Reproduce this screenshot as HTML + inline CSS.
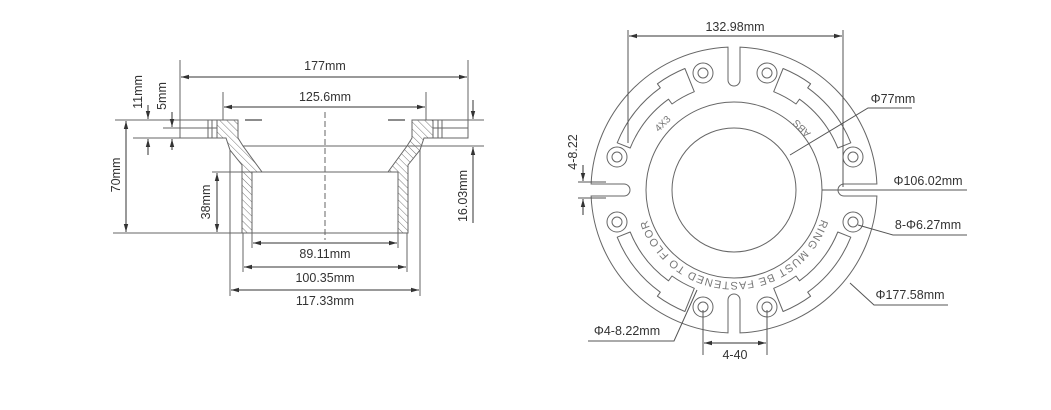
<!DOCTYPE html>
<html><head><meta charset="utf-8"><style>
html,body{margin:0;padding:0;background:#fff;}
svg{display:block;}
text{font-family:"Liberation Sans",sans-serif;font-size:12.5px;fill:#333;}
</style></head><body>
<svg id="s" width="1051" height="410" viewBox="0 0 1051 410" xmlns="http://www.w3.org/2000/svg">
<defs>
<pattern id="h" width="5" height="5" patternUnits="userSpaceOnUse" patternTransform="rotate(-45)">
<line x1="0" y1="0" x2="0" y2="5" stroke="#777" stroke-width="1"/></pattern>
<marker id="a" markerWidth="8" markerHeight="6" refX="8" refY="3" orient="auto-start-reverse" markerUnits="userSpaceOnUse">
<path d="M0,0.8 L8,3 L0,5.2 Z" fill="#333"/></marker>
</defs>
<g stroke="#666" stroke-width="1" fill="none">
<polygon points="217,120 238,120 238,138 243,146 262,172 252,172 252,233 242,233 242,165 230,150 226,138 217,138" fill="url(#h)"/>
<polygon points="433,120 412,120 412,138 407,146 388,172 398,172 398,233 408,233 408,165 420,150 424,138 433,138" fill="url(#h)"/>
<rect x="180" y="120" width="37" height="18"/>
<rect x="433" y="120" width="35" height="18"/>
<line x1="180" y1="128" x2="217" y2="128"/><line x1="433" y1="128" x2="468" y2="128"/>
<line x1="208" y1="120" x2="208" y2="138"/><line x1="212" y1="120" x2="212" y2="138"/>
<line x1="438" y1="120" x2="438" y2="138"/><line x1="442" y1="120" x2="442" y2="138"/>
<line x1="243" y1="146" x2="407" y2="146"/>
<line x1="252" y1="172" x2="398" y2="172"/>
<line x1="252" y1="233" x2="398" y2="233"/>
<line x1="245" y1="120" x2="262" y2="120" stroke-width="1.5"/><line x1="388" y1="120" x2="405" y2="120" stroke-width="1.5"/>
<line x1="325" y1="112" x2="325" y2="240" stroke-dasharray="6,3"/>
<line x1="180" y1="60" x2="180" y2="120"/><line x1="468" y1="60" x2="468" y2="120"/>
<line x1="223" y1="92" x2="223" y2="120"/><line x1="426" y1="92" x2="426" y2="120"/>
<line x1="115" y1="120" x2="180" y2="120"/><line x1="133" y1="138" x2="180" y2="138"/>
<line x1="163" y1="128" x2="180" y2="128"/>
<line x1="113" y1="233" x2="252" y2="233"/>
<line x1="212" y1="172" x2="252" y2="172"/>
<line x1="468" y1="120" x2="484" y2="120"/><line x1="407" y1="146" x2="484" y2="146"/>
<line x1="243" y1="233" x2="243" y2="272"/><line x1="407" y1="233" x2="407" y2="272"/>
<line x1="252" y1="233" x2="252" y2="248"/><line x1="398" y1="233" x2="398" y2="248"/>
<line x1="230" y1="150" x2="230" y2="296"/><line x1="420" y1="150" x2="420" y2="296"/>
</g>
<g stroke="#333" stroke-width="1" fill="none">
<line x1="181" y1="77" x2="467" y2="77" marker-start="url(#a)" marker-end="url(#a)"/>
<line x1="224" y1="107" x2="425" y2="107" marker-start="url(#a)" marker-end="url(#a)"/>
<line x1="148" y1="105" x2="148" y2="119" marker-end="url(#a)"/><line x1="148" y1="155" x2="148" y2="139" marker-end="url(#a)"/>
<line x1="172" y1="112" x2="172" y2="127" marker-end="url(#a)"/><line x1="172" y1="150" x2="172" y2="139" marker-end="url(#a)"/>
<line x1="126" y1="121" x2="126" y2="232" marker-start="url(#a)" marker-end="url(#a)"/>
<line x1="217" y1="173" x2="217" y2="232" marker-start="url(#a)" marker-end="url(#a)"/>
<line x1="473" y1="100" x2="473" y2="119" marker-end="url(#a)"/><line x1="473" y1="223" x2="473" y2="147" marker-end="url(#a)"/>
<line x1="253" y1="243" x2="397" y2="243" marker-start="url(#a)" marker-end="url(#a)"/>
<line x1="244" y1="267" x2="406" y2="267" marker-start="url(#a)" marker-end="url(#a)"/>
<line x1="231" y1="290" x2="419" y2="290" marker-start="url(#a)" marker-end="url(#a)"/>
</g>
<text x="325" y="70" text-anchor="middle">177mm</text>
<text x="325" y="101" text-anchor="middle">125.6mm</text>
<text x="325" y="258" text-anchor="middle">89.11mm</text>
<text x="325" y="282" text-anchor="middle">100.35mm</text>
<text x="325" y="305" text-anchor="middle">117.33mm</text>
<text transform="translate(142,92) rotate(-90)" text-anchor="middle">11mm</text>
<text transform="translate(166,96) rotate(-90)" text-anchor="middle">5mm</text>
<text transform="translate(120,175) rotate(-90)" text-anchor="middle">70mm</text>
<text transform="translate(210,202) rotate(-90)" text-anchor="middle">38mm</text>
<text transform="translate(467,196) rotate(-90)" text-anchor="middle">16.03mm</text>

<g id="r" stroke="#666" stroke-width="1" fill="none">
<circle cx="734" cy="190" r="88"/>
<circle cx="734" cy="190" r="62"/>
</g>
<g stroke="#555" stroke-width="1" fill="none">
<line x1="628" y1="30" x2="628" y2="143"/><line x1="843" y1="30" x2="843" y2="187"/>
<line x1="578" y1="182" x2="606" y2="182"/><line x1="578" y1="198" x2="606" y2="198"/>
<line x1="703" y1="310" x2="703" y2="355"/><line x1="767" y1="310" x2="767" y2="355"/>
<polyline points="790,155 868,108 912,108"/>
<polyline points="822,190 967,190"/>
<polyline points="858,225 893,235 967,235"/>
<polyline points="850,283 874,305 948,305"/>
<polyline points="697,290 674,341 588,341"/>
</g>
<g stroke="#333" stroke-width="1" fill="none">
<line x1="629" y1="36" x2="842" y2="36" marker-start="url(#a)" marker-end="url(#a)"/>
<line x1="583" y1="165" x2="583" y2="181" marker-end="url(#a)"/><line x1="583" y1="215" x2="583" y2="199" marker-end="url(#a)"/>
<line x1="704" y1="343" x2="766" y2="343" marker-start="url(#a)" marker-end="url(#a)"/>
</g>
<text x="735" y="31" text-anchor="middle">132.98mm</text>
<text x="893" y="103" text-anchor="middle">Φ77mm</text>
<text x="928" y="185" text-anchor="middle">Φ106.02mm</text>
<text x="928" y="229" text-anchor="middle">8-Φ6.27mm</text>
<text x="910" y="299" text-anchor="middle">Φ177.58mm</text>
<text x="627" y="335" text-anchor="middle">Φ4-8.22mm</text>
<text x="735" y="359" text-anchor="middle">4-40</text>
<text transform="translate(577,152) rotate(-90)" text-anchor="middle">4-8.22</text>
<text transform="translate(665,126) rotate(-45)" text-anchor="middle" style="font-size:10px;fill:#777">4X3</text>
<text transform="translate(804,126) rotate(-135)" text-anchor="middle" style="font-size:10px;fill:#777">ABS</text>
<path id="arc" d="M 824.6,206 A 92 92 0 0 1 643.4,206" fill="none"/>
<text style="font-size:11px;fill:#777;letter-spacing:1px"><textPath href="#arc" startOffset="50%" text-anchor="middle">RING MUST BE FASTENED TO FLOOR</textPath></text>
</svg>
<script>
(function(){
var s=document.getElementById('r'),cx=734,cy=190,ns="http://www.w3.org/2000/svg";
function p(r,a){a=a*Math.PI/180;return (cx+r*Math.cos(a)).toFixed(1)+","+(cy+r*Math.sin(a)).toFixed(1);}
function el(t,at){var e=document.createElementNS(ns,t);for(var k in at)e.setAttribute(k,at[k]);s.appendChild(e);}
var R=143,w=6,d='';
var slots=[270,0,90,180];
function ang(off,r){return Math.asin(off/r)*180/Math.PI;}
var segs=[];
for(var i=0;i<4;i++){var a=slots[i],b=slots[(i+1)%4];if(b<a)b+=360;segs.push([a,b]);}
var depth=33;
segs.forEach(function(sg,i){
 var a1=sg[0]+ang(w,R),a2=sg[1]-ang(w,R);
 d+=(i==0?"M":"L")+p(R,a1)+" A"+R+" "+R+" 0 0 1 "+p(R,a2)+" ";
 var b=sg[1]*Math.PI/180,ux=Math.cos(b),uy=Math.sin(b),nx=-uy,ny=ux;
 var r2=R-depth;
 var x1=cx+ux*r2-nx*w,y1=cy+uy*r2-ny*w,x2=cx+ux*r2+nx*w,y2=cy+uy*r2+ny*w;
 d+="L"+x1.toFixed(1)+","+y1.toFixed(1)+" A"+w+" "+w+" 0 0 0 "+x2.toFixed(1)+","+y2.toFixed(1)+" ";
});
d+="Z";
el('path',{d:d});
[[703,73],[767,73],[617,157],[617,222],[853,157],[853,222],[703,307],[767,307]].forEach(function(h){
 el('circle',{cx:h[0],cy:h[1],r:10});el('circle',{cx:h[0],cy:h[1],r:5});});
function slot(a1,a2,rev){
 var mid=rev?a1+(a2-a1)*0.3:a1+(a2-a1)*0.7;
 var dd;
 if(!rev){dd="M"+p(126,a1)+" A126 126 0 0 1 "+p(126,mid)+" L"+p(131,mid)+" A131 131 0 0 1 "+p(131,a2)+" L"+p(106,a2)+" A106 106 0 0 0 "+p(106,mid)+" L"+p(112,mid)+" A112 112 0 0 0 "+p(112,a1)+" Z";}
 else{dd="M"+p(131,a1)+" A131 131 0 0 1 "+p(131,mid)+" L"+p(126,mid)+" A126 126 0 0 1 "+p(126,a2)+" L"+p(112,a2)+" A112 112 0 0 0 "+p(112,mid)+" L"+p(106,mid)+" A106 106 0 0 0 "+p(106,a1)+" Z";}
 el('path',{d:dd,'stroke-linejoin':'round'});
}
slot(202,248,false);
slot(292,338,true);
slot(22,68,false);
slot(112,158,true);
})();
</script>
</body></html>
